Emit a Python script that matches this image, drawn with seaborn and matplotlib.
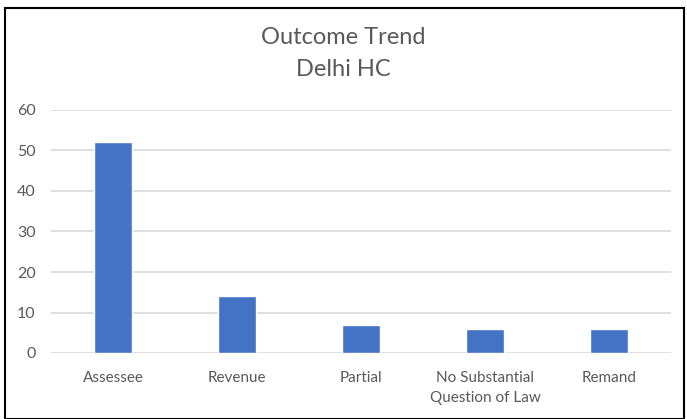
import matplotlib
matplotlib.use("Agg")
import matplotlib.pyplot as plt
import seaborn as sns
import pandas as pd
from matplotlib.patches import Rectangle

categories = ["Assessee", "Revenue", "Partial", "No Substantial\nQuestion of Law", "Remand"]
values = [52, 14, 7, 6, 6]
title_lines = ["Outcome Trend", "Delhi HC"]
yticks = [0, 10, 20, 30, 40, 50, 60]

sns.set_theme(style="white")
plt.rcParams['font.family'] = ['Lato', 'DejaVu Sans']

df = pd.DataFrame({"category": categories, "value": values})

fig = plt.figure(figsize=(6.87, 4.19), dpi=100)
ax = fig.add_axes([51/687, 1-353/419, 620/687, (353-110)/419])

sns.barplot(data=df, x="category", y="value", color="#4472C4", width=0.31,
            saturation=1, ax=ax, zorder=3)

ax.set_ylim(0, 60)
ax.set_yticks(yticks)
ax.yaxis.grid(True, color="#D9D9D9", linewidth=1.2, zorder=0)
ax.set_axisbelow(True)
for s in ax.spines.values():
    s.set_visible(False)
ax.set_xlabel("")
ax.set_ylabel("")
ax.tick_params(axis="both", length=0, colors="#595959")
ax.tick_params(axis="y", pad=11, labelsize=11.5)
ax.tick_params(axis="x", pad=13, labelsize=11)
for t in ax.get_xticklabels():
    t.set_linespacing(1.5)

fig.text(0.5, 1-38/419, title_lines[0], ha="center", va="center", fontsize=17, color="#595959")
fig.text(0.5, 1-69/419, title_lines[1], ha="center", va="center", fontsize=17, color="#595959")

fig.patches.append(Rectangle((5/687, 0), 679/687, 1-8/419, transform=fig.transFigure,
                             fill=False, edgecolor="black", linewidth=1.5))

fig.savefig("out.png", dpi=100)
